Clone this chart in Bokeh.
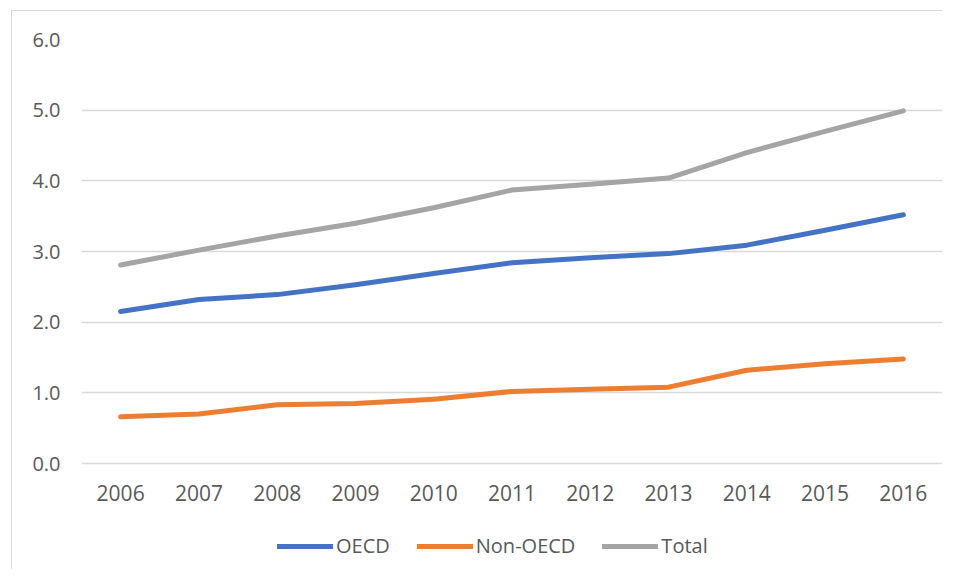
from bokeh.plotting import figure
from bokeh.models import Range1d, Legend, LegendItem, FixedTicker, NumeralTickFormatter
from bokeh.embed import file_html
from bokeh.resources import INLINE

years = ["2006", "2007", "2008", "2009", "2010", "2011", "2012", "2013", "2014", "2015", "2016"]
oecd = [2.15, 2.32, 2.39, 2.53, 2.69, 2.84, 2.91, 2.97, 3.09, 3.30, 3.52]
non_oecd = [0.66, 0.70, 0.83, 0.85, 0.91, 1.02, 1.05, 1.08, 1.32, 1.41, 1.48]
total = [2.81, 3.02, 3.22, 3.40, 3.62, 3.87, 3.95, 4.04, 4.40, 4.70, 4.99]
y_ticks = [0, 1, 2, 3, 4, 5, 6]

series_names = ["OECD", "Non-OECD", "Total"]
series_values = [oecd, non_oecd, total]
series_colors = ["#4472C4", "#ED7D31", "#A5A5A5"]

TEXT = "#595959"
FONT = "Open Sans"

# frame extends below 0 so the legend (drawn inside it) stays visible
p = figure(x_range=years, y_range=Range1d(-1.5, 6), frame_width=861, frame_height=530,
           output_backend="svg", toolbar_location=None,
           min_border_left=69, min_border_top=28, min_border_right=0, min_border_bottom=0)
p.margin = (10, 0, 0, 11)
p.styles = {"border-left": "1px solid #D9D9D9", "border-top": "1px solid #D9D9D9"}
p.outline_line_color = None
p.background_fill_color = "white"
p.border_fill_color = "white"

renderers = []
for name, vals, col in zip(series_names, series_values, series_colors):
    r = p.line(years, vals, line_color=col, line_width=5, line_cap="round", line_join="round")
    renderers.append((name, r))

p.xgrid.grid_line_color = None
p.ygrid.grid_line_color = "#D9D9D9"
p.ygrid.grid_line_width = 1.3
p.yaxis.ticker = FixedTicker(ticks=y_ticks)
p.yaxis.formatter = NumeralTickFormatter(format="0.0")

for ax in (p.xaxis[0], p.yaxis[0]):
    ax.axis_line_color = None
    ax.major_tick_line_color = None
    ax.minor_tick_line_color = None
    ax.major_tick_out = 0
    ax.major_tick_in = 0
    ax.minor_tick_out = 0
    ax.major_label_text_color = TEXT
    ax.major_label_text_font = FONT
ax = p.yaxis[0]
ax.major_label_text_font_size = "20px"
ax.major_label_standoff = 21
ax = p.xaxis[0]
ax.major_label_text_font_size = "21px"
ax.fixed_location = -0.285
ax.major_label_standoff = 1

legend = Legend(items=[LegendItem(label=n, renderers=[r]) for n, r in renderers],
                orientation="horizontal", location=(196, 10),
                label_text_font=FONT, label_text_font_size="20px", label_text_color=TEXT,
                glyph_width=56, glyph_height=20, spacing=27, padding=0, margin=0,
                label_standoff=3, border_line_color=None, background_fill_alpha=0)
p.add_layout(legend, "center")

open("out.html", "w").write(file_html(p, INLINE))
